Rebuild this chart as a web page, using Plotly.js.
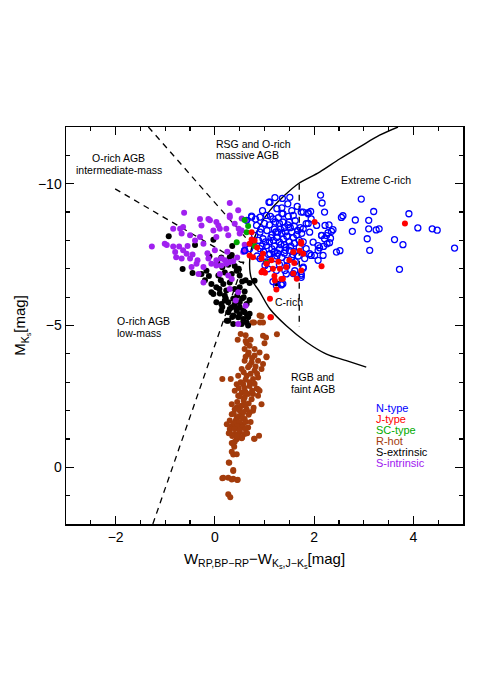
<!DOCTYPE html>
<html>
<head>
<meta charset="utf-8">
<script src="https://cdn.plot.ly/plotly-3.0.1.min.js"></script>
<style>html,body{margin:0;padding:0;background:#fff;}#chart{width:491px;height:694px;}</style>
</head>
<body>
<div id="chart"></div>
<script>
// ---------------- data ----------------
const nTypeX = [2.13,2.16,2.21,2.95,3.20,3.91,2.58,2.55,2.83,3.10,2.22,2.30,2.38,2.35,2.28,2.25,2.15,2.33,2.31,2.77,3.10,3.25,3.31,3.07,3.12,3.62,3.79,4.09,4.38,4.48,4.83,3.72,2.45,2.52,2.19,2.11,
 1.21,1.36,1.51,1.09,1.78,1.88,1.93,1.17,1.34,1.44,1.61,1.74,1.78,1.74,1.91,2.01,2.08,1.34,
 1.11,1.25,1.47,1.37,1.04,0.91,0.74,0.64,1.17,1.58,1.74,1.88,1.94,1.84,2.05,2.15,2.21,2.26,1.91,1.98,1.78,1.84,1.94,2.08,2.18,2.08,1.81,1.78,1.74,1.58,1.41,1.24,1.07,1.01,1.21,1.11,1.04,0.97,0.91,0.84,0.80,0.77,0.70,0.91,0.91,1.04,0.60,1.37,1.24,
 1.10,1.20,1.30,1.40,1.50,1.60,1.15,1.25,1.35,1.45,1.55,1.65,1.70,1.60,1.50,1.40,1.30,1.20,1.10,1.05,1.20,1.30,1.40,1.50,1.60,1.70,1.35,1.45,1.55,1.25,1.15,1.62,1.48,1.28,1.38,1.58,1.18,1.42,1.32,1.52,1.62,1.72,1.08,0.98,1.00,0.88,0.95,1.45,1.30,1.68,1.75,1.22,1.12,1.55,1.35,0.85,1.35,1.66,0.96,0.82,0.74,0.60,
 1.27,1.43,1.33,1.53,1.23,1.47,1.37,1.57,1.13,1.67,1.02,1.88,0.93,1.78,1.42,1.26];
const nTypeY = [-9.60,-9.32,-9.00,-9.46,-9.02,-8.94,-8.87,-8.81,-8.72,-8.71,-8.53,-8.55,-8.38,-8.32,-8.27,-8.17,-8.17,-8.08,-7.92,-8.32,-8.41,-8.37,-8.41,-8.06,-7.65,-8.03,-7.85,-8.44,-8.41,-8.36,-7.73,-6.98,-7.59,-7.64,-7.79,-7.74,
 -9.51,-9.48,-9.52,-9.35,-9.00,-8.98,-9.02,-6.55,-6.46,-6.82,-6.93,-6.82,-7.02,-6.70,-7.53,-7.47,-7.82,-6.43,
 -9.35,-9.12,-9.29,-8.94,-8.88,-8.82,-8.86,-8.71,-8.76,-8.88,-9.00,-8.94,-8.76,-8.59,-8.53,-8.18,-8.06,-7.88,-8.29,-7.94,-8.41,-7.71,-7.47,-7.65,-7.47,-7.30,-7.36,-7.06,-6.77,-6.83,-6.94,-6.94,-7.00,-7.12,-7.36,-7.53,-7.82,-8.06,-8.29,-8.53,-8.18,-7.94,-7.71,-7.71,-7.36,-7.24,-7.65,-6.47,-6.41,
 -8.55,-8.40,-8.60,-8.45,-8.65,-8.50,-8.20,-8.10,-8.25,-8.15,-8.30,-8.20,-8.00,-7.90,-7.95,-7.85,-7.95,-7.80,-7.95,-8.35,-7.60,-7.70,-7.55,-7.65,-7.60,-7.75,-7.40,-7.30,-7.40,-7.45,-7.70,-7.25,-8.85,-8.80,-8.05,-8.10,-8.00,-8.30,-8.40,-8.45,-8.70,-8.45,-7.50,-7.60,-8.60,-8.00,-7.80,-7.10,-7.15,-7.45,-8.25,-8.65,-8.85,-9.05,-9.15,-7.45,-8.95,-9.20,-9.05,-8.75,-8.82,-7.64,
 -8.30,-7.75,-7.85,-7.80,-8.30,-8.55,-8.65,-7.50,-8.10,-8.35,-7.95,-8.60,-8.40,-7.95,-7.65,-7.55];

const jTypeX = [2.01,3.83,2.15,1.74,1.78,1.14,1.04,0.94,0.97,1.17,1.31,1.44,0.97,0.94,1.21,1.37,1.58,1.74,1.58,0.80,0.70,0.74,0.70,0.77,1.24,1.34,1.11,1.12,1.01,1.74,1.71,1.60,1.50,1.28,1.65,0.85,1.20,0.74];
const jTypeY = [-8.65,-8.60,-7.09,-7.94,-7.53,-7.30,-7.18,-7.36,-7.53,-7.00,-7.00,-7.06,-6.94,-6.88,-6.59,-6.65,-6.83,-6.94,-7.59,-8.00,-7.88,-8.29,-7.47,-7.41,-6.27,-6.64,-5.94,-5.29,-6.86,-7.88,-7.64,-7.20,-7.30,-7.25,-6.65,-7.75,-6.75,-8.03];

const scTypeX = [0.60,0.67,0.64,0.44,0.80,1.04];
const scTypeY = [-8.72,-8.51,-8.29,-7.94,-7.80,-7.21];

const rHotX = [0.90,0.97,0.79,0.52,0.62,0.46,0.97,1.00,0.64,0.70,0.80,0.60,0.67,0.80,0.90,1.04,0.60,0.74,0.87,0.97,0.54,0.67,0.80,0.94,0.47,0.64,0.77,0.87,0.15,0.32,0.44,0.57,0.70,0.84,0.40,0.54,0.67,0.87,
 0.76,0.94,0.91,1.13,1.03,1.25,1.04,0.90,0.87,0.89,0.80,0.34,0.37,0.29,0.37,0.15,0.27,0.34,0.45,0.27,0.31,
 0.47,0.60,0.74,0.77,0.94,0.77,0.70,0.34,0.44,0.54,0.64,0.34,0.44,0.54,0.60,0.24,0.34,0.47,0.57,0.67,0.30,0.40,0.50,0.60,0.44,0.54,0.79,0.37,0.39,0.34,0.44,0.28,0.37,0.17,0.37,0.46,
 0.62,0.72,0.68,0.75,0.62,0.70,0.82,0.58,0.72,0.85,0.62,0.70,0.52,0.80,0.60,0.48,0.75,0.62,0.50,0.58,0.68,0.45,0.52,0.62,0.40,0.50,0.58,0.68,0.38,0.48,0.56,0.42,0.50,0.62,0.30,0.38,0.45,0.55,0.62,0.30,0.40,0.50,0.35,0.45,0.55,0.65,0.72,0.78,0.28,0.40];
const rHotY = [-5.35,-5.11,-5.11,-4.70,-4.66,-4.50,-4.64,-4.37,-4.37,-4.29,-4.17,-4.17,-3.99,-3.94,-4.05,-3.91,-3.76,-3.70,-3.76,-3.64,-3.47,-3.53,-3.41,-3.47,-3.23,-3.23,-3.11,-3.17,-3.11,-3.11,-2.93,-2.93,-2.87,-2.78,-2.70,-2.64,-2.58,-2.75,
 -5.11,-5.33,-5.11,-5.29,-4.58,-4.69,-3.88,-2.70,-2.52,-1.11,-1.01,-0.86,-0.45,-0.16,0.13,0.39,0.37,0.43,0.45,0.95,1.06,
 -2.52,-2.46,-2.40,-2.58,-2.22,-1.99,-1.93,-2.22,-2.11,-2.17,-2.05,-1.87,-1.75,-1.87,-1.70,-1.52,-1.46,-1.52,-1.52,-1.40,-1.23,-1.17,-1.23,-1.17,-0.99,-1.02,-1.01,-0.82,-0.72,-0.55,-0.46,-0.17,0.10,0.37,0.40,0.44,
 -4.45,-4.50,-4.05,-3.85,-3.90,-3.60,-3.55,-3.35,-3.30,-3.30,-3.10,-3.00,-3.00,-2.95,-2.80,-2.80,-2.70,-2.65,-2.50,-2.35,-2.25,-2.30,-2.15,-2.20,-2.05,-2.00,-1.95,-1.85,-1.90,-1.80,-1.75,-1.65,-1.60,-1.60,-1.65,-1.55,-1.45,-1.40,-1.35,-1.35,-1.35,-1.30,-1.10,-1.10,-1.05,-1.20,-1.60,-2.10,-1.20,-0.90];

const sExtX = [-0.93,-0.65,-0.03,-0.11,0.13,0.34,0.27,0.07,0.20,0.34,0.44,0.50,-0.07,0.03,0.17,0.30,-0.03,0.10,0.23,0.40,0.50,0.60,0.03,0.20,0.37,0.50,0.64,0.13,0.30,0.44,0.57,-0.40,-0.17,-0.27,0.30,0.35,-0.07,0.09,
 0.13,0.27,0.34,0.44,0.50,0.60,0.70,0.27,0.37,0.47,0.57,0.67,0.27,0.37,0.54,0.64,0.67,0.80,1.24,0.24,
 -0.45,-0.20,0.15,0.40,0.55,0.62,0.45,0.55,0.20,0.40,0.15,0.65,0.50,0.35,0.22,0.58,0.12,-0.12,0.05,0.48,0.70,0.70];
const sExtY = [-8.15,-6.99,-8.02,-7.44,-7.40,-7.49,-7.14,-6.76,-6.87,-6.82,-6.93,-6.76,-6.46,-6.35,-6.46,-6.52,-6.11,-6.13,-6.23,-6.29,-6.35,-6.20,-5.82,-5.88,-5.94,-5.82,-5.76,-5.52,-5.58,-5.52,-5.52,-7.84,-6.93,-6.82,-7.41,-7.80,-6.17,-6.29,
 -5.76,-5.82,-5.64,-5.58,-5.64,-5.47,-5.41,-5.47,-5.35,-5.29,-5.23,-5.29,-5.17,-5.05,-5.05,-5.11,-5.00,-6.58,-6.49,-5.17,
 -6.85,-6.60,-7.05,-7.10,-6.55,-6.60,-6.05,-5.95,-6.05,-5.75,-5.65,-5.35,-5.40,-5.30,-5.95,-6.00,-6.60,-6.75,-7.20,-7.00,-6.50,-5.90];

const sIntX = [-1.27,-1.01,-0.84,-0.72,-0.80,-0.78,-0.67,-0.64,-0.57,-0.50,-0.37,-0.23,-0.33,-0.23,-0.47,-0.70,-0.64,-0.67,-0.50,-0.40,-0.30,-0.27,-0.23,-0.13,-0.10,0.03,0.10,-0.03,0.23,0.27,0.47,0.30,0.40,0.03,0.00,0.13,-0.13,-0.07,0.03,0.13,0.23,0.30,0.37,0.03,0.20,0.10,0.27,0.34,0.30,0.47,0.64,0.60,0.54,-0.62,0.30,-0.84,-0.97,-0.30,0.07,0.48,0.30,0.54,0.50,0.60,0.57,0.42,0.62,0.47,
 -0.45,-0.15,0.25,-0.35,0.45,-0.55];
const sIntY = [-7.79,-7.88,-7.79,-7.79,-7.59,-7.41,-7.36,-7.65,-7.53,-7.36,-7.18,-7.06,-6.82,-6.52,-7.06,-8.41,-8.47,-8.24,-8.18,-8.00,-8.12,-8.53,-7.88,-8.76,-8.71,-8.65,-8.41,-8.35,-8.41,-8.18,-9.06,-8.82,-8.59,-8.12,-7.65,-7.36,-7.36,-7.18,-7.12,-7.12,-7.18,-7.24,-7.27,-7.30,-7.30,-6.82,-6.76,-6.64,-6.29,-6.17,-8.71,-7.65,-8.35,-8.98,-9.32,-8.41,-7.84,-8.76,-8.53,-8.41,-8.88,-8.77,-8.24,-7.85,-7.59,-5.88,-5.70,-5.05,
 -7.50,-7.55,-7.60,-7.30,-7.40,-7.80];

// region boundaries
const curveX = [3.69,3.32,2.92,2.52,2.11,1.68,1.37,1.11,0.91,0.77,0.70,0.74,0.91,1.11,1.44,1.85,2.25,2.65,3.05];
const curveY = [-12.0,-11.71,-11.30,-10.88,-10.41,-10.0,-9.53,-9.06,-8.53,-7.94,-7.23,-6.64,-6.17,-5.58,-4.99,-4.41,-3.99,-3.76,-3.53];
const dashUpperX = [-1.34,0.62];
const dashUpperY = [-12.0,-8.10];
const dashMiddleX = [-2.01,0.52,0.70];
const dashMiddleY = [-9.82,-7.23,-7.23];
const dashLowerX = [-1.25,0.58];
const dashLowerY = [2.0,-7.23];
const dashVertX = [1.70,1.70];
const dashVertY = [-10.0,-4.95];

const legendLabels = ['N-type','J-type','SC-type','R-hot','S-extrinsic','S-intrinsic'];
const colN = '#0000FF', colJ = '#FF0000', colSC = '#00AA00', colR = '#A33C0C', colSE = '#000000', colSI = '#A020F0';
const legendColors = [colN, colJ, colSC, colR, colSE, colSI];

// ---------------- traces ----------------
const dashStyle = {color:'#000', width:1.3, dash:'6px,5px'};
function lineTrace(x, y, line){ return {x:x, y:y, mode:'lines', line:line, hoverinfo:'skip', showlegend:false}; }
function dots(x, y, color){ return {x:x, y:y, mode:'markers', marker:{size:6, color:color, line:{width:0}}, showlegend:false, hoverinfo:'skip'}; }

const traces = [
  lineTrace(dashUpperX, dashUpperY, dashStyle),
  lineTrace(dashMiddleX, dashMiddleY, dashStyle),
  lineTrace(dashLowerX, dashLowerY, dashStyle),
  lineTrace(dashVertX, dashVertY, dashStyle),
  lineTrace(curveX, curveY, {color:'#000', width:1.4, shape:'spline', smoothing:1}),
  dots(rHotX, rHotY, colR),
  dots(sExtX, sExtY, colSE),
  dots(sIntX, sIntY, colSI),
  {x:nTypeX, y:nTypeY, mode:'markers', marker:{symbol:'circle-open', size:6, color:colN, line:{width:1.3, color:colN}}, showlegend:false, hoverinfo:'skip'},
  dots(scTypeX, scTypeY, colSC),
  dots(jTypeX, jTypeY, colJ)
];

const fontFam = 'Liberation Sans, Arial, Helvetica, sans-serif';
const regionFont = {family:fontFam, size:10.5, color:'#000'};
function note(text, x, y, xanchor){ return {text:text, x:x, y:y, xref:'x', yref:'y', showarrow:false, xanchor:xanchor, yanchor:'middle', font:regionFont}; }

const annotations = [
  note('O-rich AGB', -1.94, -10.89, 'center'),
  note('intermediate-mass', -1.93, -10.48, 'center'),
  note('RSG and O-rich', -0.02, -11.41, 'left'),
  note('massive AGB', -0.02, -11.00, 'left'),
  note('Extreme C-rich', 3.24, -10.14, 'center'),
  note('C-rich', 1.49, -5.83, 'center'),
  note('O-rich AGB', -2.01, -5.16, 'left'),
  note('low-mass', -2.01, -4.75, 'left'),
  note('RGB and', 1.50, -3.17, 'left'),
  note('faint AGB', 1.50, -2.76, 'left')
];
const legendY = [-2.10,-1.71,-1.33,-0.94,-0.55,-0.16];
legendLabels.forEach(function(t,i){
  annotations.push({text:t, x:3.21, y:legendY[i], xref:'x', yref:'y', showarrow:false, xanchor:'left', yanchor:'middle', font:{family:fontFam, size:11, color:legendColors[i]}});
});

const axisCommon = {
  showgrid:false, zeroline:false, showline:true, linecolor:'#000', linewidth:1.5, mirror:'allticks',
  ticks:'inside', ticklen:8, tickwidth:1.2, tickcolor:'#000',
  tickfont:{family:fontFam, size:14, color:'#000'}
};

const layout = {
  width:491, height:694,
  margin:{l:66, r:28, t:127, b:170},
  paper_bgcolor:'#fff', plot_bgcolor:'#fff',
  showlegend:false,
  xaxis: Object.assign({}, axisCommon, {
    range:[-3,5], tick0:0, dtick:2,
    minor:{dtick:0.5, ticklen:4, ticks:'inside', tickcolor:'#000', tickwidth:1.2},
    title:{text:'W<sub>RP,BP\u2212RP</sub>\u2212W<sub>K<sub>s</sub>,J\u2212K<sub>s</sub></sub>[mag]', font:{family:fontFam, size:15, color:'#000'}, standoff:9}
  }),
  yaxis: Object.assign({}, axisCommon, {
    range:[2,-12], tick0:0, dtick:5,
    minor:{dtick:1, ticklen:4, ticks:'inside', tickcolor:'#000', tickwidth:1.2},
    title:{text:'M<sub>K<sub>s</sub></sub>[mag]', font:{family:fontFam, size:15, color:'#000'}, standoff:8}
  }),
  annotations:annotations
};

Plotly.newPlot('chart', traces, layout, {staticPlot:true, displayModeBar:false});
</script>
</body>
</html>
